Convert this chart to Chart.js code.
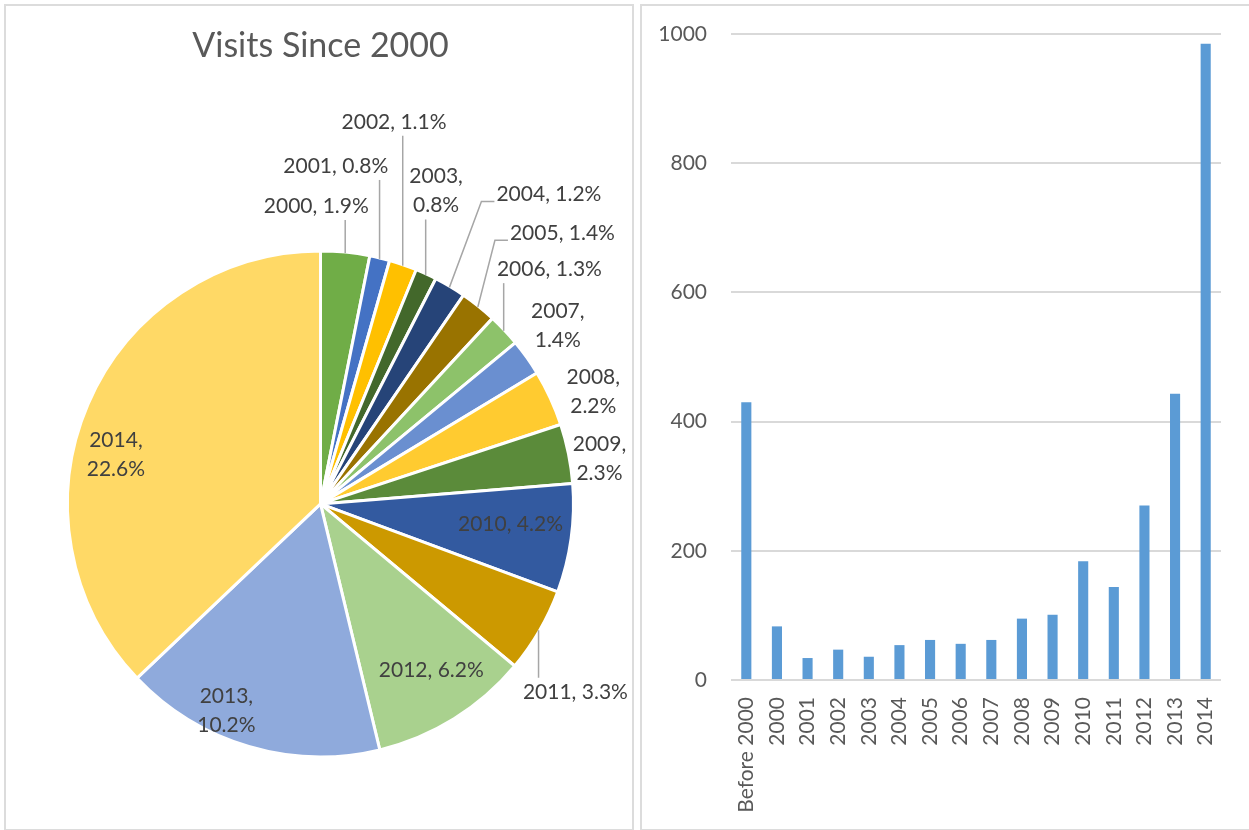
<!DOCTYPE html>
<html>
<head>
<meta charset="utf-8">
<title>Visits Since 2000</title>
<script src="https://cdn.jsdelivr.net/npm/chart.js@4.4.1/dist/chart.umd.min.js"></script>
<style>
    html, body { margin: 0; padding: 0; background: #fff; }
    .panel { position: absolute; border: 2px solid #dcdcdc; background: #fff; }
    #pieBox { left: 4px; top: 4px; width: 626px; height: 823px; }
    #barBox { left: 640px; top: 4px; width: 607px; height: 823px; }
    canvas { display: block; }
</style>
</head>
<body>
<div class="panel" id="pieBox"><canvas id="pieChart" width="626" height="823"></canvas></div>
<div class="panel" id="barBox"><canvas id="barChart" width="607" height="823"></canvas></div>
<script>
// categories (bar chart has "Before 2000" in front of the years)
const categories = ['Before 2000', '2000', '2001', '2002', '2003', '2004', '2005', '2006',
    '2007', '2008', '2009', '2010', '2011', '2012', '2013', '2014'];
// visits per category
const visits = [430, 83, 34, 47, 36, 54, 62, 56, 62, 95, 101, 184, 144, 270, 443, 985];
// percentages as printed on the pie labels
const pctLabels = ['1.9', '0.8', '1.1', '0.8', '1.2', '1.4', '1.3', '1.4', '2.2', '2.3',
    '4.2', '3.3', '6.2', '10.2', '22.6'];
// y axis ticks
const yTicks = [0, 200, 400, 600, 800, 1000];

// pie only covers 2000..2014
const pieYears = categories.slice(1);
const pieValues = visits.slice(1);

const sliceColors = ['#70AD47', '#4472C4', '#FFC000', '#43682B', '#264478', '#997300',
    '#8DC26A', '#6A8FD0', '#FFCB30', '#5B8B3A', '#335AA0', '#CC9900',
    '#A9D18E', '#8FAADC', '#FFD966'];

// where each label sits relative to the slice (r = fraction of radius on mid angle)
const labelPlace = [
    { r: 1, dx: -29, dy: -46, leader: 'v' },
    { r: 1, dx: -44, dy: -92, leader: 'v' },
    { r: 1, dx: -9, dy: -143, leader: 'v' },
    { r: 1, dx: 10, dy: -83, leader: 'v', wrap: true },
    { r: 1, dx: 99, dy: -92, leader: 's' },
    { r: 1, dx: 84, dy: -73, leader: 's' },
    { r: 1, dx: 45, dy: -61, leader: 'v' },
    { r: 1, dx: 31, dy: -32, wrap: true },
    { r: 1, dx: 43, dy: -6, wrap: true },
    { r: 1, dx: 31, dy: 5, wrap: true },
    { r: 0.75, dx: 2, dy: -6 },
    { r: 1, dx: 36, dy: 61, leader: 'v' },
    { r: 0.8, dx: 4, dy: -6 },
    { r: 0.88, dx: -31, dy: -7, wrap: true },
    { r: 0.85, dx: -7, dy: 36, wrap: true }
];

Chart.defaults.font.family = 'Lato, "Open Sans", sans-serif';

// draws the "year, pct%" labels and leader lines on the pie
const pieLabels = {
    id: 'pieLabels',
    afterDatasetsDraw(chart) {
        const ctx = chart.ctx;
        const arcs = chart.getDatasetMeta(0).data;
        const lh = 29;
        ctx.save();
        ctx.font = '21px Lato';
        ctx.textAlign = 'center';
        ctx.textBaseline = 'middle';
        arcs.forEach((arc, i) => {
            const { x, y, startAngle, endAngle, outerRadius } =
                arc.getProps(['x', 'y', 'startAngle', 'endAngle', 'outerRadius'], true);
            const mid = (startAngle + endAngle) / 2;
            const p = labelPlace[i];
            const lx = x + Math.cos(mid) * outerRadius * p.r + p.dx;
            const ly = y + Math.sin(mid) * outerRadius * p.r + p.dy;
            const lines = p.wrap
                ? [pieYears[i] + ',', pctLabels[i] + '%']
                : [pieYears[i] + ', ' + pctLabels[i] + '%'];
            const w = Math.max(...lines.map(t => ctx.measureText(t).width));
            const halfText = (lines.length - 1) * lh / 2 + 8;

            // leader line from slice edge to the label
            if (p.leader) {
                const ex = x + Math.cos(mid) * (outerRadius - 1);
                const ey = y + Math.sin(mid) * (outerRadius - 1);
                ctx.strokeStyle = '#a6a6a6';
                ctx.lineWidth = 1.5;
                ctx.beginPath();
                ctx.moveTo(ex, ey);
                if (p.leader === 'v') {
                    const ty = ly < ey ? ly + halfText + 6 : ly - halfText - 6;
                    ctx.lineTo(ex, ty);
                } else {
                    const x1 = lx - w / 2;
                    ctx.lineTo(x1 - 15, ly + 7);
                    ctx.lineTo(x1 - 2, ly + 7);
                }
                ctx.stroke();
            }

            ctx.fillStyle = '#404040';
            lines.forEach((t, k) => {
                ctx.fillText(t, lx, ly + (k - (lines.length - 1) / 2) * lh);
            });
        });
        ctx.restore();
    }
};

// pie chart of visits per year
new Chart(document.getElementById('pieChart').getContext('2d'), {
    type: 'pie',
    data: {
        labels: pieYears,
        datasets: [{
            data: pieValues,
            backgroundColor: sliceColors,
            borderColor: '#ffffff',
            borderWidth: 3,
            radius: 253
        }]
    },
    options: {
        responsive: false,
        animation: false,
        layout: { padding: { left: 3, right: 0, top: 0, bottom: 0 } },
        plugins: {
            legend: { display: false },
            tooltip: { enabled: false },
            title: {
                display: true,
                text: 'Visits Since 2000',
                color: '#595959',
                font: { size: 34, weight: 'normal' },
                padding: { top: 20, bottom: 112 }
            }
        }
    },
    plugins: [pieLabels]
});

// bar chart of visits per year
new Chart(document.getElementById('barChart').getContext('2d'), {
    type: 'bar',
    data: {
        labels: categories,
        datasets: [{
            data: visits,
            backgroundColor: '#5B9BD5',
            barPercentage: 0.33,
            categoryPercentage: 1.0
        }]
    },
    options: {
        responsive: false,
        animation: false,
        layout: { padding: { left: 0, right: 28, top: 28, bottom: 0 } },
        plugins: {
            legend: { display: false },
            tooltip: { enabled: false }
        },
        scales: {
            x: {
                grid: { display: false },
                border: { display: false },
                ticks: {
                    color: '#595959',
                    font: { size: 21 },
                    minRotation: 90,
                    maxRotation: 90,
                    autoSkip: false,
                    padding: 9
                },
                afterFit: s => { s.height = 149; }
            },
            y: {
                min: yTicks[0],
                max: yTicks[yTicks.length - 1],
                afterBuildTicks: s => { s.ticks = yTicks.map(v => ({ value: v })); },
                grid: { color: '#d9d9d9', lineWidth: 2, drawTicks: false },
                border: { display: false },
                ticks: {
                    color: '#595959',
                    font: { size: 21 },
                    padding: 24,
                    callback: v => String(v)
                },
                afterFit: s => { s.width = 89; s.paddingTop = 0; s.paddingBottom = 0; }
            }
        }
    }
});
</script>
</body>
</html>
